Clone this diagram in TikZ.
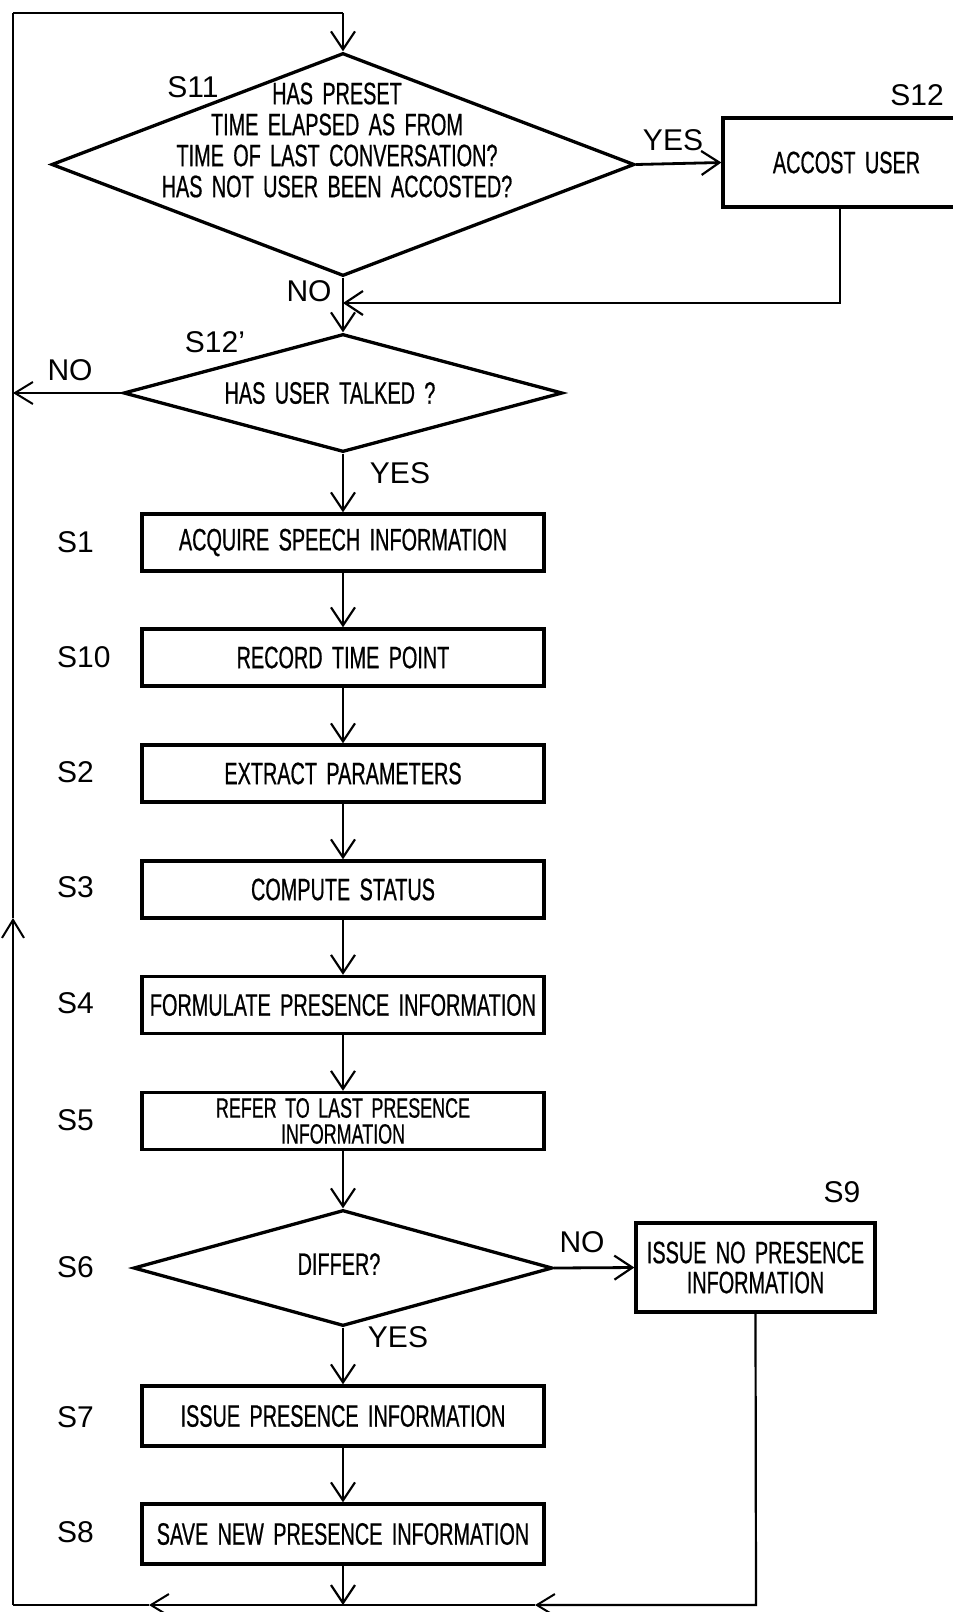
\documentclass[tikz,border=0pt]{standalone}
\usepackage{fontspec}
\setmainfont{Liberation Sans}
\newfontfamily\condfont[FakeStretch=0.64,WordSpace=1.7,FakeBold=0.6]{Liberation Sans}
\usetikzlibrary{shapes.geometric,arrows.meta}
\begin{document}
\begin{tikzpicture}[x=1pt,y=-1pt,
  ln/.style={line width=2.8pt},
  arr/.style={line width=2.8pt,-{Straight Barb[length=18pt,width=24pt,line width=2.2pt]}},
  thinarr/.style={line width=2.2pt,-{Straight Barb[length=18pt,width=22pt,line width=2pt]}},
  box/.style={draw,line width=3.3pt,minimum width=402pt,minimum height=57pt,inner sep=0pt,align=center,font=\condfont\fontsize{31}{26}\selectfont},
  dia/.style={draw,diamond,line width=3.3pt,inner sep=0pt},
  txt/.style={inner sep=0pt,align=center,font=\condfont\fontsize{31}{31}\selectfont},
  lab/.style={inner sep=0pt,font=\fontsize{30}{30}\selectfont},
  steplab/.style={lab,anchor=west}]
\clip (0,0) rectangle (953,1612);
\fill[white] (0,0) rectangle (953,1612);

% decisions and boxes
\node[dia,minimum width=583pt,minimum height=223pt] (s11) at (343,164.5) {};
\node[txt] (s11t) at (337,140) {HAS PRESET\\TIME ELAPSED AS FROM\\TIME OF LAST CONVERSATION?\\HAS NOT USER BEEN ACCOSTED?};
\node[box,minimum width=247pt,minimum height=89pt] (s12) at (846.5,162.5) {ACCOST USER};
\node[dia,minimum width=439pt,minimum height=118pt] (s12p) at (343,393) {};
\node[txt] (s12pt) at (330,393) {HAS USER TALKED ?};
\node[box] (s1) at (343,542.5) {ACQUIRE SPEECH INFORMATION};
\node[box] (s10) at (343,657.5) {RECORD TIME POINT};
\node[box] (s2) at (343,773.5) {EXTRACT PARAMETERS};
\node[box] (s3) at (343,889.5) {COMPUTE STATUS};
\node[box] (s4) at (343,1005) {FORMULATE PRESENCE INFORMATION};
\node[box,font=\condfont\fontsize{28}{26}\selectfont] (s5) at (343,1121) {REFER TO LAST PRESENCE\\INFORMATION};
\node[dia,minimum width=419pt,minimum height=116pt] (s6) at (343,1268) {};
\node[txt] (s6t) at (339,1264) {DIFFER?};
\node[box,minimum width=239pt,minimum height=89pt,font=\condfont\fontsize{31}{30}\selectfont] (s9) at (755.5,1267.5) {ISSUE NO PRESENCE\\INFORMATION};
\node[box,minimum height=60pt] (s7) at (343,1416) {ISSUE PRESENCE INFORMATION};
\node[box,minimum height=60pt] (s8) at (343,1534) {SAVE NEW PRESENCE INFORMATION};

% step labels
\node[lab] (l11) at (193,87) {S11};
\node[lab] (l12) at (917,95) {S12};
\node[lab] (l12p) at (215,342) {S12’};
\node[steplab] (l1) at (57,542) {S1};
\node[steplab] (l10) at (57,657) {S10};
\node[steplab] (l2) at (57,772) {S2};
\node[steplab] (l3) at (57,887) {S3};
\node[steplab] (l4) at (57,1003) {S4};
\node[steplab] (l5) at (57,1120) {S5};
\node[steplab] (l6) at (57,1267) {S6};
\node[steplab] (l7) at (57,1417) {S7};
\node[steplab] (l8) at (57,1532) {S8};
\node[lab] (l9) at (842,1192) {S9};

% yes/no labels
\node[lab] (y1) at (673,140) {YES};
\node[lab] (n1) at (309,291) {NO};
\node[lab] (n2) at (70,370) {NO};
\node[lab] (y2) at (400,473) {YES};
\node[lab] (n3) at (582,1242) {NO};
\node[lab] (y3) at (398,1337) {YES};

% coordinates of the loop
\coordinate (tl) at (13,13);
\coordinate (tr) at (343,13);
\coordinate (lu) at (13,918);
\coordinate (bl) at (13,1605);
\coordinate (ba1) at (149,1605);
\coordinate (bm) at (343,1605);
\coordinate (ba2) at (535,1605);
\coordinate (br) at (756,1605);
\coordinate (m1) at (840,303);
\coordinate (j1) at (343,303);

% connectors
\draw[thinarr] (bl) -- (lu);
\draw[line width=2.2pt] (lu) -- (tl);
\draw[ln] (tl) -- (tr);
\draw[arr] (tr) -- (s11.north);
\draw[arr] (s11.east) -- (s12.west);
\draw[arr] (s12.south -| m1) -- (m1) -- (j1);
\draw[arr] (s11.south) -- (s12p.north);
\draw[thinarr] (s12p.west) -- (s12p.west -| tl);
\draw[arr] (s12p.south) -- (s1.north);
\draw[arr] (s1) -- (s10);
\draw[arr] (s10) -- (s2);
\draw[arr] (s2) -- (s3);
\draw[arr] (s3) -- (s4);
\draw[arr] (s4) -- (s5);
\draw[arr] (s5) -- (s6.north);
\draw[arr] (s6.east) -- (s9.west);
\draw[arr] (s6.south) -- (s7.north);
\draw[arr] (s7) -- (s8);
\draw[arr] (s8) -- (bm);
\draw[thinarr] (s9.south) -- (br) -- (ba2);
\draw[ln] (ba2) -- (bm);
\draw[thinarr] (bm) -- (ba1);
\draw[ln] (ba1) -- (bl);
\end{tikzpicture}
\end{document}
